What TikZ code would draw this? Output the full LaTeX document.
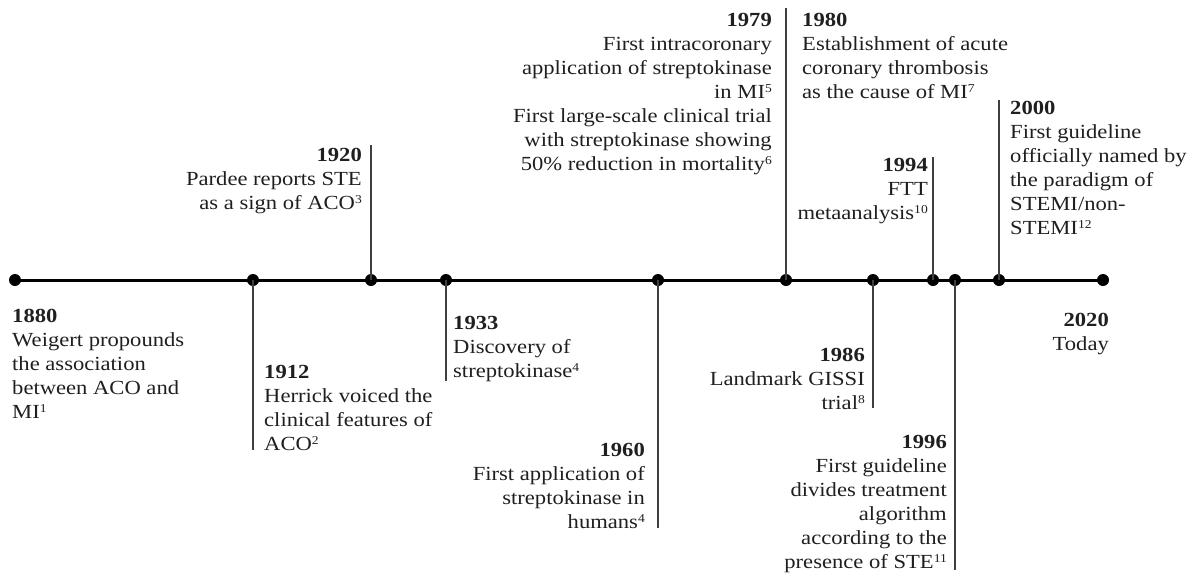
\documentclass[tikz,border=0pt]{standalone}
\usepackage{fontspec}
\setmainfont{Liberation Serif}[FakeStretch=1.13]
\newcommand{\sref}[1]{\raisebox{0.32em}{\fontsize{12}{12}\selectfont #1}}
\begin{document}
\begin{tikzpicture}[x=1pt,y=-1pt,
  evdot/.style={circle,fill=black,inner sep=0pt,minimum size=12pt},
  stem/.style={draw=black!75,line width=2pt},
  axisline/.style={draw=black,line width=3pt},
  lbl/.style={font=\fontsize{20}{24}\selectfont,inner sep=0pt,text=black!88},
  lbll/.style={lbl,align=left,anchor=north west},
  lblr/.style={lbl,align=right,anchor=north east}]
\useasboundingbox (0,0) rectangle (1197,579);
% dots
\node[evdot] (d1880) at (15,280) {};
\node[evdot] (d1912) at (253,280) {};
\node[evdot] (d1920) at (371,280) {};
\node[evdot] (d1933) at (446,280) {};
\node[evdot] (d1960) at (658,280) {};
\node[evdot] (d1979) at (786,280) {};
\node[evdot] (d1986) at (873,280) {};
\node[evdot] (d1994) at (933,280) {};
\node[evdot] (d1996) at (955,280) {};
\node[evdot] (d2000) at (999,280) {};
\node[evdot] (d2020) at (1103,280) {};
\draw[axisline] (d1880.center) -- (d2020.center);
% stem ends
\coordinate (e1912) at (253,450);
\coordinate (e1920) at (371,145);
\coordinate (e1933) at (446,381);
\coordinate (e1960) at (658,528);
\coordinate (e1979) at (786,8);
\coordinate (e1986) at (873,408);
\coordinate (e1994) at (933,157);
\coordinate (e1996) at (955,570);
\coordinate (e2000) at (999,100);
\foreach \y in {1912,1920,1933,1960,1979,1986,1994,1996,2000}
  \draw[stem] (d\y.center) -- (e\y);
% labels
\node[lbll] (t1880) at (12,309) {\textbf{1880}\\Weigert propounds\\the association\\between ACO and\\MI\sref{1}};
\node[lbll] (t1912) at (264,365) {\textbf{1912}\\Herrick voiced the\\clinical features of\\ACO\sref{2}};
\node[lblr] (t1920) at (362,148) {\textbf{1920}\\Pardee reports STE\\as a sign of ACO\sref{3}};
\node[lbll] (t1933) at (453,316) {\textbf{1933}\\Discovery of\\streptokinase\sref{4}};
\node[lblr] (t1960) at (645,443) {\textbf{1960}\\First application of\\streptokinase in\\humans\sref{4}};
\node[lblr] (t1979) at (772,13) {\textbf{1979}\\First intracoronary\\application of streptokinase\\in MI\sref{5}\\First large-scale clinical trial\\with streptokinase showing\\50\% reduction in mortality\sref{6}};
\node[lbll] (t1980) at (802,13) {\textbf{1980}\\Establishment of acute\\coronary thrombosis\\as the cause of MI\sref{7}};
\node[lblr] (t1986) at (865,348) {\textbf{1986}\\Landmark GISSI\\trial\sref{8}};
\node[lblr] (t1994) at (928,158) {\textbf{1994}\\FTT\\metaanalysis\sref{10}};
\node[lblr] (t1996) at (947,435) {\textbf{1996}\\First guideline\\divides treatment\\algorithm\\according to the\\presence of STE\sref{11}};
\node[lbll] (t2000) at (1010,101) {\textbf{2000}\\First guideline\\officially named by\\the paradigm of\\STEMI/non-\\STEMI\sref{12}};
\node[lblr] (t2020) at (1109,313) {\textbf{2020}\\Today};
\end{tikzpicture}
\end{document}
